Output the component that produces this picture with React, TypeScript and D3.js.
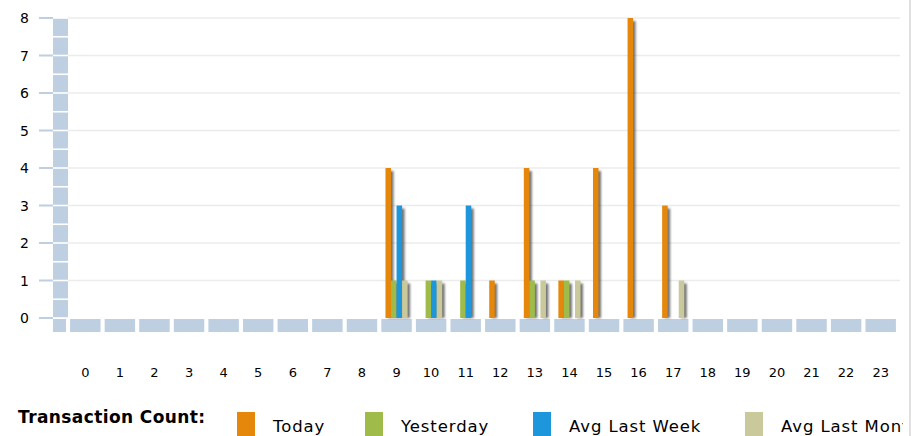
import * as d3 from "d3";

const hours = d3.range(0, 24).map(String);
const seriesNames = ["Today", "Yesterday", "Avg Last Week", "Avg Last Month"];
const seriesColors = ["#e4870a", "#9fbb4a", "#1e96db", "#c9c99c"];

// values per hour, 0..23
const today = [0, 0, 0, 0, 0, 0, 0, 0, 0, 4, 0, 0, 1, 4, 1, 4, 8, 3, 0, 0, 0, 0, 0, 0];
const yesterday = [0, 0, 0, 0, 0, 0, 0, 0, 0, 1, 1, 1, 0, 1, 1, 0, 0, 0, 0, 0, 0, 0, 0, 0];
const avgLastWeek = [0, 0, 0, 0, 0, 0, 0, 0, 0, 3, 1, 3, 0, 0, 0, 0, 0, 0, 0, 0, 0, 0, 0, 0];
const avgLastMonth = [0, 0, 0, 0, 0, 0, 0, 0, 0, 1, 1, 0, 0, 1, 1, 0, 0, 1, 0, 0, 0, 0, 0, 0];
const yTicks = [0, 1, 2, 3, 4, 5, 6, 7, 8];

const WIDTH = 911;
const HEIGHT = 436;
const FLOOR_COLOR = "#bdcfe0";

export default function App() {
  const series = [today, yesterday, avgLastWeek, avgLastMonth];

  const x = d3
    .scaleBand<string>()
    .domain(hours)
    .range([68, 898])
    .paddingInner(0.12)
    .paddingOuter(0.06);

  const y = d3.scaleLinear().domain([0, 8]).range([318, 18]);

  const groupW = x.step() * 0.64;
  const xSub = d3
    .scaleBand<string>()
    .domain(seriesNames)
    .range([0, groupW]);

  // left wall in half-unit blocks
  const wallSteps = d3.range(0, 8, 0.5);

  const legendX = [237, 365, 533, 745];

  return (
    <svg
      width={WIDTH}
      height={HEIGHT}
      style={{ position: "absolute", left: 0, top: 0, background: "#fff" }}
      fontFamily="'DejaVu Sans', Verdana, sans-serif"
    >
      <defs>
        <filter id="blur" x="-50%" y="-10%" width="200%" height="120%">
          <feGaussianBlur stdDeviation="0.8" />
        </filter>
        <clipPath id="clip">
          <rect x={0} y={0} width={903} height={HEIGHT} />
        </clipPath>
      </defs>

      {/* grid */}
      {yTicks.slice(1).map((t) => (
        <line
          key={"g" + t}
          x1={68}
          x2={900}
          y1={y(t)}
          y2={y(t)}
          stroke="#ececec"
          strokeWidth={1.5}
        />
      ))}

      {/* y ticks + labels */}
      {yTicks.map((t) => (
        <g key={"t" + t}>
          <line x1={39} x2={53} y1={y(t)} y2={y(t)} stroke={FLOOR_COLOR} strokeWidth={2} />
          <text
            x={29}
            y={y(t)}
            textAnchor="end"
            dominantBaseline="central"
            fontSize={14}
            fill="#000"
          >
            {t}
          </text>
        </g>
      ))}

      {/* left wall */}
      {wallSteps.map((v) => (
        <rect
          key={"w" + v}
          x={53}
          y={y(v + 0.5) + 0.8}
          width={15}
          height={y(v) - y(v + 0.5) - 1.6}
          fill={FLOOR_COLOR}
        />
      ))}
      <rect x={53} y={319} width={13} height={13} fill={FLOOR_COLOR} />

      {/* floor */}
      {hours.map((h) => (
        <rect
          key={"f" + h}
          x={x(h)!}
          y={319}
          width={x.bandwidth()}
          height={13}
          fill={FLOOR_COLOR}
        />
      ))}

      {/* bars */}
      {hours.map((h, i) => {
        const gx = x(h)! + (x.bandwidth() - groupW) / 2;
        return (
          <g key={"b" + h}>
            {series.map((s, si) => {
              const v = s[i];
              if (!v) return null;
              const bx = gx + xSub(seriesNames[si])!;
              const bw = xSub.bandwidth();
              return (
                <g key={si}>
                  <rect
                    x={bx + 2.5}
                    y={y(v) + 3}
                    width={bw}
                    height={y(0) - y(v) - 3}
                    fill="#3a3a3a"
                    opacity={0.7}
                    filter="url(#blur)"
                  />
                  <rect
                    x={bx}
                    y={y(v)}
                    width={bw}
                    height={y(0) - y(v)}
                    fill={seriesColors[si]}
                  />
                </g>
              );
            })}
          </g>
        );
      })}

      {/* x labels */}
      {hours.map((h) => (
        <text
          key={"xl" + h}
          x={x(h)! + x.bandwidth() / 2}
          y={372}
          textAnchor="middle"
          dominantBaseline="central"
          fontSize={13}
          fill="#000"
        >
          {h}
        </text>
      ))}

      {/* right frame */}
      <line x1={910} x2={910} y1={0} y2={HEIGHT} stroke="#d6d6d6" strokeWidth={1.5} />

      {/* legend */}
      <g clipPath="url(#clip)">
        <text x={18} y={423} fontSize={17} fontWeight="bold" fill="#000" letterSpacing={0.4}>
          Transaction Count:
        </text>
        {seriesNames.map((n, i) => (
          <g key={"l" + n}>
            <rect x={legendX[i]} y={412} width={18} height={30} fill={seriesColors[i]} />
            <text x={legendX[i] + 36} y={432} fontSize={16.5} fill="#000" letterSpacing={0.9}>
              {n}
            </text>
          </g>
        ))}
      </g>
    </svg>
  );
}
